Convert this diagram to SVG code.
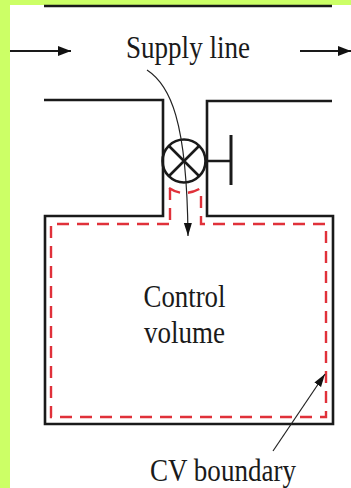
<svg xmlns="http://www.w3.org/2000/svg" width="351" height="488" viewBox="0 0 351 488">
<style>
.w{fill:none;stroke:#1a1a1a;stroke-width:2.6}
.t{fill:none;stroke:#222;stroke-width:1.2}
.r{fill:none;stroke:#e0313a;stroke-width:2.4;stroke-dasharray:12 8}
text{font-family:"Liberation Serif",serif;font-size:31px;fill:#1a1a1a;text-anchor:middle}
</style>
<defs>
<marker id="a" markerUnits="userSpaceOnUse" markerWidth="14" markerHeight="12" refX="13" refY="5" orient="auto"><path d="M0 0L13 5L0 10Z" fill="#111"/></marker>
<marker id="b" markerUnits="userSpaceOnUse" markerWidth="14" markerHeight="10" refX="13" refY="4" orient="auto"><path d="M0 0L13 4L0 8Z" fill="#111"/></marker>
</defs>
<rect width="351" height="488" fill="#fff"/>
<path d="M0 0H351V5H10V488H0Z" fill="#ccff66"/>
<g id="pipe"><path class="w" d="M44 6H332M44 100H163V216H45V424H333V216H207V101H332"/></g>
<g id="valve"><circle class="w" cx="184" cy="161" r="21.5"/><path class="w" d="M169 146L199 176M199 146L169 176M206 161H231"/><path class="w" style="stroke-width:3" d="M231 135V185"/></g>
<g id="control-volume-boundary"><path class="r" d="M169 224H51V417H326V224H201V188"/><path class="r" stroke-dasharray="8 6" d="M170 188V224M169 188Q184 198 201 188"/></g>
<g id="connectors">
<path class="w" style="stroke-width:1.8" marker-end="url(#a)" d="M10 51H71"/>
<path class="w" style="stroke-width:1.8" marker-end="url(#a)" d="M300 51H351"/>
<path class="t" marker-end="url(#b)" d="M147 70C170 85 187 120 188 236"/>
<path class="t" marker-end="url(#b)" d="M273 451L325 374"/>
</g>
<g id="labels">
<text x="188" y="58" textLength="124" lengthAdjust="spacingAndGlyphs">Supply line</text>
<text x="184.500" y="307" textLength="82" lengthAdjust="spacingAndGlyphs">Control</text>
<text x="184.500" y="343" textLength="81" lengthAdjust="spacingAndGlyphs">volume</text>
<text x="223" y="481" textLength="146" lengthAdjust="spacingAndGlyphs">CV boundary</text>
</g>
</svg>
